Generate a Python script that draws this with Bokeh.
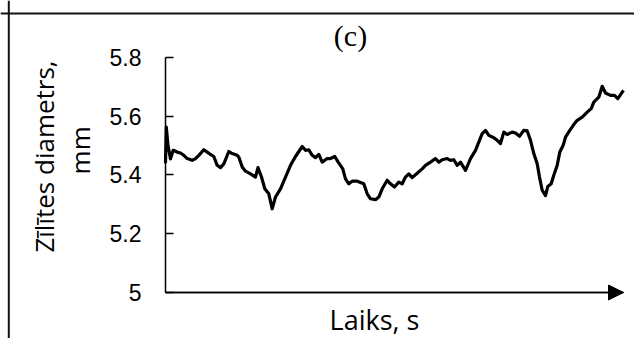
from math import pi
from bokeh.plotting import figure
from bokeh.models import Range1d, FixedTicker, Label, Arrow, NormalHead, Span
from bokeh.embed import file_html
from bokeh.resources import INLINE

# ---- data ----
time_s = [
    0.00, 0.08, 0.25, 0.50, 0.77, 1.17, 1.50, 1.83, 2.17, 2.67,
    3.00, 3.33, 3.83, 4.17, 4.50, 4.83, 5.17, 5.50, 5.83, 6.33,
    6.67, 7.17, 7.33, 7.67, 8.00, 8.50, 9.00, 9.25, 9.60, 9.93,
    10.33, 10.67, 11.00, 11.50, 12.00, 12.50, 13.00, 13.67, 14.00, 14.33,
    14.67, 15.00, 15.33, 15.67, 16.17, 16.50, 16.93, 17.27, 17.73, 18.00,
    18.33, 18.67, 19.17, 19.83, 20.17, 20.50, 21.00, 21.33, 21.67, 22.17,
    22.50, 22.90, 23.33, 23.67, 24.00, 24.33, 24.67, 25.17, 25.67, 26.00,
    26.50, 27.00, 27.33, 27.67, 28.17, 28.50, 28.83, 29.17, 29.50, 30.00,
    30.50, 31.00, 31.33, 31.67, 32.00, 32.33, 32.83, 33.17, 33.50, 33.83,
    34.17, 34.67, 35.00, 35.40, 35.83, 36.17, 36.50, 36.83, 37.17, 37.40,
    37.67, 38.00, 38.23, 38.57, 38.83, 39.17, 39.43, 39.77, 40.00, 40.43,
    40.77, 41.17, 41.67, 42.17, 42.57, 42.83, 43.33, 43.67, 44.00, 44.50,
    44.90, 45.23, 45.57, 45.80,
]
diameter_mm = [
    5.440, 5.563, 5.500, 5.455, 5.484, 5.478, 5.475, 5.467, 5.456, 5.450,
    5.456, 5.467, 5.486, 5.478, 5.470, 5.463, 5.433, 5.425, 5.438, 5.480,
    5.473, 5.467, 5.461, 5.427, 5.413, 5.404, 5.393, 5.425, 5.393, 5.353,
    5.336, 5.285, 5.325, 5.353, 5.393, 5.433, 5.463, 5.497, 5.484, 5.486,
    5.467, 5.459, 5.470, 5.444, 5.456, 5.456, 5.463, 5.444, 5.421, 5.387,
    5.370, 5.379, 5.379, 5.370, 5.336, 5.319, 5.316, 5.325, 5.353, 5.382,
    5.370, 5.359, 5.376, 5.370, 5.393, 5.404, 5.391, 5.406, 5.421, 5.433,
    5.444, 5.456, 5.444, 5.452, 5.456, 5.450, 5.452, 5.433, 5.444, 5.416,
    5.456, 5.484, 5.512, 5.541, 5.552, 5.535, 5.527, 5.518, 5.507, 5.546,
    5.538, 5.546, 5.543, 5.532, 5.552, 5.550, 5.518, 5.473, 5.438, 5.393,
    5.348, 5.330, 5.361, 5.370, 5.399, 5.433, 5.478, 5.501, 5.529, 5.552,
    5.569, 5.586, 5.597, 5.614, 5.626, 5.648, 5.665, 5.702, 5.679, 5.671,
    5.671, 5.660, 5.677, 5.688,
]
y_ticks = [5.0, 5.2, 5.4, 5.6, 5.8]
y_tick_labels = ["5", "5.2", "5.4", "5.6", "5.8"]
panel_label = "(c)"
x_title = "Laiks, s"
y_title_lines = ["Zīlītes diametrs,", "mm"]

T_END = 45.8  # end of the time axis (arrow tip)

# ---- figure: the frame covers the whole canvas, axes sit at fixed locations ----
p = figure(
    width=634, height=338,
    output_backend="svg", toolbar_location=None, title=None,
    x_range=Range1d(-16.5, 46.9), y_range=Range1d(4.8434, 5.99404),
    min_border=0, min_border_left=0, min_border_right=0,
    min_border_top=0, min_border_bottom=0,
    background_fill_color="white", border_fill_color="white",
)
p.outline_line_color = None
p.xgrid.visible = False
p.ygrid.visible = False

# x axis: plain line ending in an arrow, no ticks
xa = p.xaxis[0]
xa.fixed_location = y_ticks[0]
xa.bounds = (0, T_END)
xa.ticker = FixedTicker(ticks=[])
xa.major_tick_line_color = None
xa.minor_tick_line_color = None
xa.major_label_text_font_size = "0px"
xa.axis_line_color = "black"
xa.axis_line_width = 1.5

# y axis
ya = p.yaxis[0]
ya.fixed_location = 0
ya.bounds = (y_ticks[0], y_ticks[-1])
ya.ticker = FixedTicker(ticks=y_ticks)
ya.major_label_overrides = {t: s for t, s in zip(y_ticks, y_tick_labels)}
ya.major_tick_in = 8
ya.major_tick_out = 0
ya.minor_tick_line_color = None
ya.axis_line_color = "black"
ya.axis_line_width = 1.5
ya.major_tick_line_color = "black"
ya.major_tick_line_width = 1.5
ya.major_label_standoff = 24
ya.major_label_text_font = "Liberation Sans"
ya.major_label_text_font_size = "23px"
ya.major_label_text_color = "black"

# outer box (left and top edges of the chart area)
p.add_layout(Span(location=-15.67, dimension="height", line_color="#111111", line_width=2))
p.add_layout(Span(location=5.9498, dimension="width", line_color="#111111", line_width=2))

# data line
p.line(time_s, diameter_mm, line_width=3.2, line_color="black", line_join="round")

# arrow at end of x axis
p.add_layout(Arrow(
    end=NormalHead(size=15, fill_color="black", line_color="black", line_width=1),
    x_start=0, y_start=y_ticks[0], x_end=T_END, y_end=y_ticks[0],
    line_color="black", line_width=1.5,
))

# texts
p.add_layout(Label(
    x=18.5, y=5.8749, text=panel_label,
    text_font="Liberation Serif", text_font_size="30px",
    text_align="center", text_baseline="middle", text_color="black",
))
p.add_layout(Label(
    x=20.9, y=4.9064, text=x_title,
    text_font="Open Sans", text_font_size="27px",
    text_align="center", text_baseline="alphabetic", text_color="black",
))
p.add_layout(Label(
    x=-12.15, y=5.463, text=y_title_lines[0], angle=pi / 2,
    text_font="Open Sans", text_font_size="26px",
    text_align="center", text_baseline="alphabetic", text_color="black",
))
p.add_layout(Label(
    x=-8.55, y=5.484, text=y_title_lines[1], angle=pi / 2,
    text_font="Open Sans", text_font_size="26px",
    text_align="center", text_baseline="alphabetic", text_color="black",
))

with open("out.html", "w", encoding="utf-8") as f:
    f.write(file_html(p, INLINE))
